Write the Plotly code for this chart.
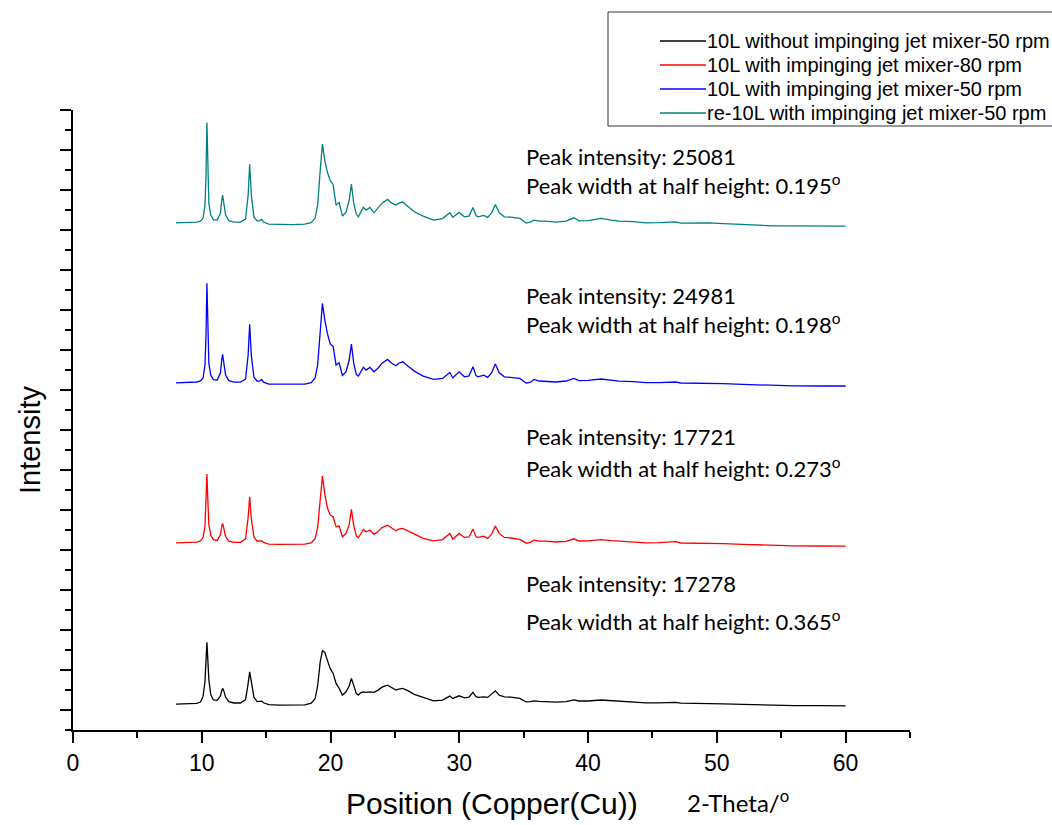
import plotly.graph_objects as go

# 2-theta positions (degrees), shared by all four patterns
two_theta = [8.0, 9.0, 9.6, 9.9, 10.1, 10.25, 10.33, 10.4, 10.47, 10.55,
             10.7, 10.9, 11.2, 11.45, 11.55, 11.62, 11.7, 11.85, 12.1, 12.5,
             13.0, 13.4, 13.6, 13.72, 13.85, 14.05, 14.3, 14.5, 14.65, 14.8,
             15.2, 16.0, 17.0, 18.0, 18.5, 18.8, 19.0, 19.2, 19.37, 19.55,
             19.75, 19.97, 20.2, 20.43, 20.67, 20.92, 21.2, 21.45, 21.62, 21.8,
             22.0, 22.16, 22.35, 22.55, 22.76, 23.06, 23.37, 23.7, 24.0, 24.43,
             24.75, 25.08, 25.3, 25.6, 26.0, 26.5, 27.2, 28.0, 28.7, 29.26,
             29.5, 29.98, 30.4, 30.75, 31.06, 31.3, 31.45, 31.9, 32.2, 32.5,
             32.8, 33.1, 33.5, 34.0, 34.7, 35.0, 35.2, 35.5, 35.8, 36.2,
             36.7, 37.5, 38.3, 38.9, 39.3, 40.0, 41.0, 41.8, 42.4, 43.5,
             44.5, 45.5, 46.8, 47.2, 48.5, 49.4, 50.5, 52.0, 54.3, 56.0,
             58.0, 60.0]

# intensities (counts)
without_50 = [880, 900, 1050, 1400, 2800, 6500, 11000, 16300, 12000, 7000,
              3200, 1900, 1800, 2900, 4200, 4800, 4300, 2600, 1500, 1150,
              1150, 2000, 6000, 8950, 6500, 2600, 1500, 1500, 1620, 1200,
              750, 620, 620, 700, 1100, 2200, 5500, 11500, 14200, 13880,
              11880, 9800, 8550, 6050, 4800, 3120, 3950, 5380, 7300, 5380,
              3550, 3120, 3750, 3950, 3800, 3950, 3800, 4380, 5120, 5620,
              5000, 4380, 4620, 4800, 4250, 3300, 2550, 1700, 1880, 2880,
              2300, 2950, 2450, 2620, 3800, 2750, 2550, 2700, 2550, 3380,
              4200, 3120, 2700, 2620, 2300, 1750, 1450, 1500, 1700, 1550,
              1500, 1350, 1500, 1950, 1650, 1650, 1900, 1700, 1550, 1400,
              1200, 1200, 1300, 1100, 1050, 1100, 950, 800, 550, 500,
              480, 450]

with_80 = [1200, 1250, 1380, 1650, 2500, 5500, 11500, 18380, 12000, 5800,
           3100, 2000, 1800, 3200, 5300, 6050, 5000, 2800, 1600, 1300,
           1300, 2200, 7500, 12700, 7200, 2600, 1600, 1650, 1700, 1300,
           850, 800, 800, 850, 1200, 2200, 5000, 12500, 17880, 13500,
           10000, 8120, 7700, 5200, 5380, 2700, 3500, 5800, 9550, 5500,
           3000, 2450, 3400, 4550, 3950, 4380, 3300, 4000, 5000, 5620,
           4900, 4200, 4600, 4800, 4200, 3380, 2300, 1700, 2000, 3550,
           2120, 3550, 2550, 2650, 4620, 2700, 2550, 2880, 2300, 3300,
           5380, 3550, 2550, 2400, 2050, 1500, 1100, 1300, 1880, 1600,
           1600, 1400, 1550, 2200, 1650, 1700, 2000, 1750, 1600, 1450,
           1200, 1250, 1500, 1150, 1100, 1200, 1000, 800, 500, 450,
           400, 380]

with_50 = [1200, 1280, 1400, 1650, 2400, 5700, 13200, 26100, 14200, 6050,
           3100, 2000, 1900, 3700, 7000, 8300, 6500, 3150, 1750, 1350,
           1350, 2150, 8100, 15800, 8000, 2600, 1600, 1700, 2050, 1350,
           850, 800, 800, 850, 1250, 2400, 5700, 14500, 21050, 17000,
           13600, 11000, 10300, 5620, 6200, 3050, 3900, 6900, 10880, 6100,
           3300, 2880, 3900, 5050, 4380, 5050, 3950, 4900, 6100, 7050,
           6100, 5450, 6100, 6450, 5400, 4120, 2880, 2050, 2300, 3800,
           2450, 3950, 2700, 2900, 5200, 3000, 2700, 3120, 2550, 3650,
           5880, 3700, 2700, 2600, 2300, 1600, 1150, 1300, 2050, 1650,
           1600, 1400, 1650, 2300, 1750, 1800, 2150, 1850, 1600, 1500,
           1250, 1250, 1400, 1150, 1100, 1200, 1000, 800, 480, 420,
           400, 400]

re_with_50 = [1200, 1250, 1380, 1620, 2380, 5620, 13120, 26300, 14380, 6120,
              3120, 2000, 1880, 3620, 6880, 8120, 6380, 3120, 1750, 1380,
              1380, 2120, 8120, 15800, 8120, 2620, 1620, 1750, 2050, 1380,
              880, 750, 750, 880, 1250, 2380, 5620, 14380, 20880, 16880,
              13880, 11800, 10800, 5620, 6250, 2880, 3880, 6880, 10880, 6120,
              3380, 2700, 3880, 5050, 4380, 5050, 3700, 4880, 6120, 7050,
              6120, 5620, 6120, 6380, 5380, 3950, 2880, 1880, 2250, 3700,
              2550, 3800, 2700, 2880, 5050, 3000, 2700, 3050, 2550, 3620,
              5800, 3700, 2700, 2620, 2300, 1620, 1120, 1380, 1880, 1620,
              1620, 1380, 1620, 2450, 1700, 1750, 2300, 1880, 1620, 1500,
              1200, 1250, 1450, 1120, 1120, 1200, 1000, 750, 450, 420,
              380, 380]

series_names = ["10L without impinging jet mixer-50 rpm",
                "10L with impinging jet mixer-80 rpm",
                "10L with impinging jet mixer-50 rpm",
                "re-10L with impinging jet mixer-50 rpm"]
series_values = [without_50, with_80, with_50, re_with_50]
series_offsets = [5600, 45600, 85600, 125600]
series_colors = ["#000000", "#ff0000", "#0000ff", "#008080"]

peak_intensity = ["17278", "17721", "24981", "25081"]
peak_width = ["0.365", "0.273", "0.198", "0.195"]

fig = go.Figure()
for name, vals, off, col in zip(series_names, series_values, series_offsets, series_colors):
    fig.add_trace(go.Scatter(x=two_theta, y=[v + off for v in vals], mode="lines",
                             name=name, showlegend=False,
                             line=dict(color=col, width=1.3)))

W, H = 1052, 825
ML, MR, MT, MB = 73, 142, 110, 95
PW, PH = W - ML - MR, H - MT - MB


def px(xp):
    return (xp - ML) / PW


def py(yp):
    return (H - MB - yp) / PH


arial = "Liberation Sans, Arial, sans-serif"
calib = "Lato, Carlito, Calibri, sans-serif"

annotations = [
    dict(text="Intensity", x=px(30), y=py(440), xref="paper", yref="paper",
         xanchor="center", yanchor="middle",
         textangle=-90, showarrow=False, font=dict(family=arial, size=29, color="black")),
    dict(text="Position (Copper(Cu))", x=px(492), y=py(803), xref="paper", yref="paper",
         xanchor="center", yanchor="middle",
         showarrow=False, font=dict(family=arial, size=30, color="black")),
    dict(text="2-Theta/<sup>o</sup>", x=px(685), y=py(801), xref="paper", yref="paper",
         xanchor="left", yanchor="middle",
         showarrow=False, font=dict(family=calib, size=24, color="black")),
]
line1_y = [583, 437, 295, 156]
line2_y = [620, 467, 323, 184]
for pi, pw, y1, y2 in zip(peak_intensity, peak_width, line1_y, line2_y):
    annotations.append(dict(text="Peak intensity: " + pi, x=px(524), y=py(y1),
                            xref="paper", yref="paper", xanchor="left", yanchor="middle",
                            showarrow=False,
                            font=dict(family=calib, size=22, color="black")))
    annotations.append(dict(text="Peak width at half height: " + pw + "<sup>o</sup>",
                            x=px(524), y=py(y2), xref="paper", yref="paper",
                            xanchor="left", yanchor="middle", showarrow=False,
                            font=dict(family=calib, size=22, color="black")))

# legend box drawn by hand (rows as in the reference)
shapes = [dict(type="rect", xref="paper", yref="paper",
               x0=px(608), x1=px(1070), y0=py(126), y1=py(12),
               line=dict(color="#333333", width=1), fillcolor="rgba(0,0,0,0)")]
legend_rows = [41, 65, 89, 113]
for name, col, ry in zip(series_names, series_colors, legend_rows):
    shapes.append(dict(type="line", xref="paper", yref="paper",
                       x0=px(660), x1=px(706), y0=py(ry), y1=py(ry),
                       line=dict(color=col, width=1.3)))
    annotations.append(dict(text=name, x=px(705), y=py(ry), xref="paper", yref="paper",
                            xanchor="left", yanchor="middle", showarrow=False,
                            font=dict(family=arial, size=20, color="black")))

fig.update_layout(
    width=W, height=H,
    margin=dict(l=ML, r=MR, t=MT, b=MB),
    paper_bgcolor="white", plot_bgcolor="white",
    annotations=annotations,
    shapes=shapes,
    showlegend=False,
    xaxis=dict(range=[0, 65], showline=True, linecolor="black", linewidth=2,
               ticks="outside", ticklen=11, tickwidth=2, tickcolor="black",
               tick0=0, dtick=10, showgrid=False, zeroline=False,
               tickfont=dict(family=arial, size=23, color="black"),
               minor=dict(ticks="outside", ticklen=6, tickwidth=2, tickcolor="black",
                          tick0=0, dtick=5, showgrid=False)),
    yaxis=dict(range=[0, 155000], showline=True, linecolor="black", linewidth=2,
               ticks="outside", ticklen=11, tickwidth=2, tickcolor="black",
               tick0=5000, dtick=10000, showticklabels=False, showgrid=False,
               zeroline=False,
               minor=dict(ticks="outside", ticklen=6, tickwidth=2, tickcolor="black",
                          tick0=0, dtick=10000, showgrid=False)),
)

fig.write_html("out.html")
